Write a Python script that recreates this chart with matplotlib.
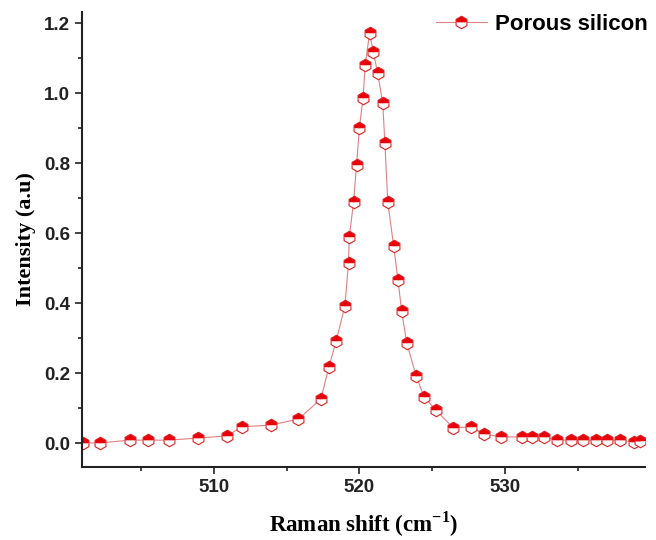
import matplotlib.pyplot as plt
from matplotlib.ticker import MultipleLocator

plt.rcParams['mathtext.fontset'] = 'custom'
plt.rcParams['mathtext.bf'] = 'Liberation Serif:bold'
plt.rcParams['mathtext.rm'] = 'Liberation Serif'

# Raman spectrum of porous silicon
raman_shift = [501.0, 502.2, 504.2, 505.5, 506.9, 508.9, 510.9, 511.9, 513.9, 515.8,
               517.35, 517.9, 518.4, 519.0, 519.25, 519.3, 519.6, 519.8, 520.0, 520.25,
               520.4, 520.7, 520.95, 521.25, 521.6, 521.75, 521.95, 522.35, 522.65, 522.9,
               523.25, 523.9, 524.45, 525.25, 526.45, 527.65, 528.55, 529.75, 531.15, 531.85,
               532.7, 533.55, 534.55, 535.35, 536.25, 537.0, 537.9, 538.85, 539.3]
intensity = [0.001, 0.001, 0.009, 0.009, 0.009, 0.015, 0.021, 0.047, 0.052, 0.069,
             0.126, 0.218, 0.292, 0.392, 0.515, 0.589, 0.689, 0.795, 0.901, 0.987,
             1.081, 1.172, 1.118, 1.058, 0.972, 0.858, 0.689, 0.564, 0.467, 0.378,
             0.287, 0.192, 0.132, 0.095, 0.044, 0.047, 0.027, 0.018, 0.018, 0.018,
             0.018, 0.009, 0.009, 0.009, 0.009, 0.009, 0.009, 0.004, 0.006]

fig = plt.figure(figsize=(6.56, 5.4), dpi=100)
ax = fig.add_axes([0.125, 0.135, 0.858, 0.843])

ax.plot(raman_shift, intensity, color='#e08080', lw=0.8,
        marker='h', markersize=9, fillstyle='top',
        markerfacecolor='#e8000b', markerfacecoloralt='white',
        markeredgecolor='#e02020', markeredgewidth=0.8,
        label='Porous silicon')

ax.set_xlim(500.93, 539.62)
ax.set_ylim(-0.068, 1.232)
ax.xaxis.set_major_locator(MultipleLocator(10))
ax.xaxis.set_minor_locator(MultipleLocator(5))
ax.yaxis.set_major_locator(MultipleLocator(0.2))
ax.yaxis.set_minor_locator(MultipleLocator(0.1))
ax.yaxis.set_major_formatter(plt.FormatStrFormatter('%.1f'))

for side in ['top', 'right']:
    ax.spines[side].set_visible(False)
for side in ['left', 'bottom']:
    ax.spines[side].set_linewidth(1.5)
    ax.spines[side].set_color('#222222')

ax.tick_params(which='major', direction='out', length=5, width=1.2, color='#222222')
ax.tick_params(which='minor', direction='out', length=3, width=1.2, color='#222222')
for lbl in ax.get_xticklabels() + ax.get_yticklabels():
    lbl.set_fontfamily('Liberation Sans')
    lbl.set_fontweight('bold')
    lbl.set_fontsize(13.5)
    lbl.set_color('#222222')

ax.set_xlabel('Raman shift (cm$^{\\mathbf{-1}}$)', fontfamily='Liberation Serif',
              fontweight='bold', fontsize=16.5, labelpad=10)
ax.set_ylabel('Intensity (a.u)', fontfamily='Liberation Serif',
              fontweight='bold', fontsize=16, labelpad=6)

leg = ax.legend(loc='upper right', bbox_to_anchor=(1.04, 1.04), frameon=False,
                prop={'family': 'Liberation Sans', 'weight': 'bold', 'size': 16},
                handlelength=2.3, handletextpad=0.35)

fig.savefig('out.png', dpi=100)
